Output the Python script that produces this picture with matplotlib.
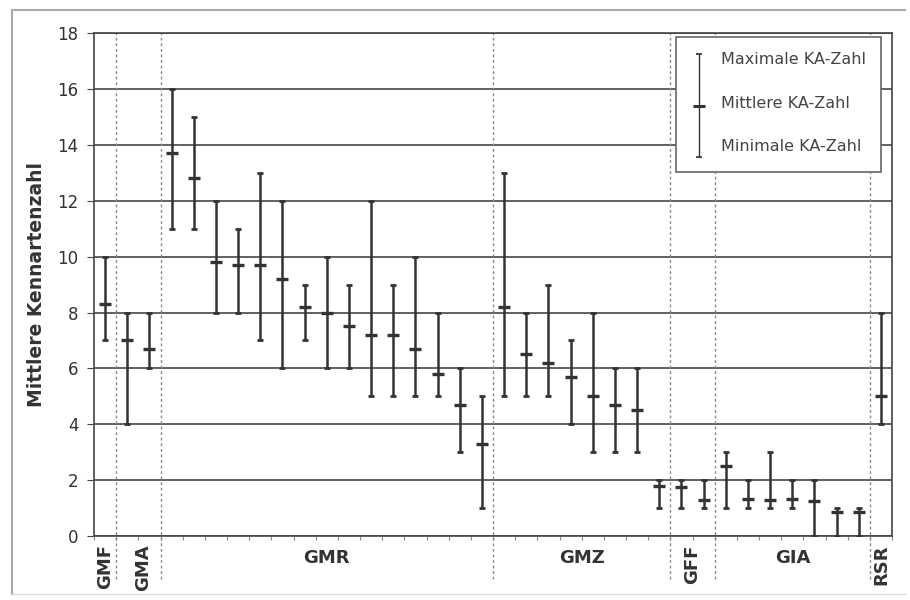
import matplotlib.pyplot as plt
from matplotlib.patches import Rectangle

# Gruppen und Anzahl der Einheiten je Gruppe
gruppen = ["GMF", "GMA", "GMR", "GMZ", "GFF", "GIA", "RSR"]
anzahl = [1, 2, 15, 8, 2, 7, 1]
gedreht = [True, True, False, False, True, False, True]

# Kennartenzahlen (max, mittel, min) je Einheit
ka_max = [10,
          8, 8,
          16, 15, 12, 11, 13, 12, 9, 10, 9, 12, 9, 10, 8, 6, 5,
          13, 8, 9, 7, 8, 6, 6, 2,
          2, 2,
          3, 2, 3, 2, 2, 1, 1,
          8]
ka_mittel = [8.3,
             7.0, 6.7,
             13.7, 12.8, 9.8, 9.7, 9.7, 9.2, 8.2, 8.0, 7.5, 7.2, 7.2, 6.7, 5.8, 4.7, 3.3,
             8.2, 6.5, 6.2, 5.7, 5.0, 4.7, 4.5, 1.8,
             1.75, 1.3,
             2.5, 1.33, 1.3, 1.33, 1.25, 0.85, 0.85,
             5.0]
ka_min = [7,
          4, 6,
          11, 11, 8, 8, 7, 6, 7, 6, 6, 5, 5, 5, 5, 3, 1,
          5, 5, 5, 4, 3, 3, 3, 1,
          1, 1,
          1, 1, 1, 1, 0, 0, 0,
          4]

linie = "#333333"

fig = plt.figure(figsize=(9.1, 6), dpi=100)
ax = fig.add_axes([0.1033, 0.1067, 0.877, 0.838])

n = len(ka_max)
x = [i + 0.5 for i in range(n)]

ax.set_xlim(0, n)
ax.set_ylim(0, 18)
ax.set_yticks(range(0, 19, 2))
ax.yaxis.grid(True, color="#555555", linewidth=1.3)
ax.set_axisbelow(True)

ax.vlines(x, ka_min, ka_max, color=linie, linewidth=1.8, zorder=3)
ax.plot(x, ka_max, ls="none", marker="_", ms=5, mew=2.0, color=linie, zorder=3)
ax.plot(x, ka_min, ls="none", marker="_", ms=5, mew=2.0, color=linie, zorder=3)
ax.plot(x, ka_mittel, ls="none", marker="_", ms=9, mew=2.4, color=linie, zorder=4)

# Gruppengrenzen und Beschriftungen
grenzen = []
pos = 0
for name, k, rot in zip(gruppen, anzahl, gedreht):
    mitte = pos + k / 2
    if name == "GMA":
        mitte += 0.2
    if rot:
        ax.text(mitte, -0.3, name, rotation=90, ha="center", va="top",
                fontsize=13, fontweight="bold", color="#333333")
    else:
        ax.text(mitte, -0.45, name, ha="center", va="top",
                fontsize=13, fontweight="bold", color="#333333")
    pos += k
    if pos < n:
        grenzen.append(pos)

for g in grenzen:
    ax.plot([g, g], [-1.55, 18], ls=(0, (2, 2)), color="#888888",
            linewidth=1.0, clip_on=False, zorder=2)

ax.set_xticks(range(0, n + 1))
ax.set_xticklabels([])
ax.tick_params(axis="x", length=3, color="#888888")
ax.tick_params(axis="y", length=5, color="#444444", labelsize=12,
               labelcolor="#333333", pad=6)

for s in ax.spines.values():
    s.set_color("#444444")
    s.set_linewidth(1.2)

ax.set_ylabel("Mittlere Kennartenzahl", fontsize=13.5, fontweight="bold",
              color="#333333", labelpad=8)

# Legende
ax.add_patch(Rectangle((0.7298, 0.7234), 0.2557, 0.2684, transform=ax.transAxes,
                       facecolor="white", edgecolor="#666666", linewidth=1.2, zorder=5))
lx = 0.7581
ax.plot([lx, lx], [0.7535, 0.9583], transform=ax.transAxes, color=linie,
        linewidth=1.0, zorder=6)
ax.plot([lx, lx], [0.7535, 0.9583], transform=ax.transAxes, ls="none",
        marker="_", ms=4, mew=1.2, color=linie, zorder=6)
ax.plot([lx], [0.855], transform=ax.transAxes, ls="none", marker="_", ms=9,
        mew=2.2, color=linie, zorder=6)
for ty, t in zip([0.948, 0.861, 0.775],
                 ["Maximale KA-Zahl", "Mittlere KA-Zahl", "Minimale KA-Zahl"]):
    ax.text(0.786, ty, t, transform=ax.transAxes, fontsize=11.5, color="#444444",
            va="center", ha="left", zorder=6)

# Rahmen um die Abbildung
fig.add_artist(plt.Line2D([0.013, 0.013], [0.01, 0.983], color="#aaaaaa", linewidth=1.5))
fig.add_artist(plt.Line2D([0.013, 0.995], [0.983, 0.983], color="#aaaaaa", linewidth=1.5))
fig.add_artist(plt.Line2D([0.013, 0.995], [0.01, 0.01], color="#dddddd", linewidth=1.0))

fig.savefig("out.png", dpi=100)
